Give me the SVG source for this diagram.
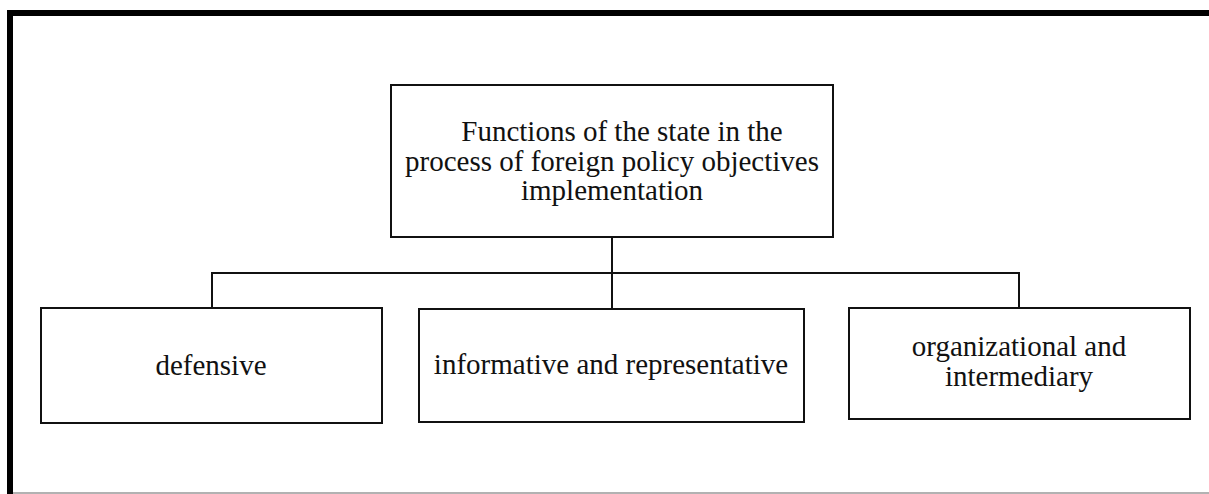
<svg xmlns="http://www.w3.org/2000/svg" width="1209" height="494" viewBox="0 0 1209 494">
<style>
.box{fill:#fff;stroke:#111;stroke-width:2}
.lbl{font-family:"Liberation Serif","Times New Roman",serif;font-size:29px;fill:#111;text-anchor:middle}
.con{stroke:#111;stroke-width:2;fill:none}
</style>
<rect width="1209" height="494" fill="#fff"/>
<g id="frame">
<line x1="7" y1="13" x2="1209" y2="13" stroke="#000" stroke-width="6"/>
<line x1="10" y1="10" x2="10" y2="494" stroke="#000" stroke-width="6"/>
<line x1="13" y1="493" x2="1209" y2="493" stroke="#999" stroke-width="1.5"/>
</g>
<g id="connectors">
<line class="con" x1="612" y1="237" x2="612" y2="273" stroke-width="3"/>
<line class="con" x1="612" y1="273" x2="612" y2="309"/>
<polyline class="con" points="212,308 212,273 1019,273 1019,308"/>
</g>
<g id="root">
<rect class="box" x="391" y="85" width="442" height="152"/>
<text class="lbl" x="622" y="141">Functions of the state in the</text>
<text class="lbl" x="612" y="171">process of foreign policy objectives</text>
<text class="lbl" x="612" y="200">implementation</text>
</g>
<g id="defensive">
<rect class="box" x="41" y="308" width="341" height="115"/>
<text class="lbl" x="211" y="375">defensive</text>
</g>
<g id="informative">
<rect class="box" x="419" y="309" width="385" height="113"/>
<text class="lbl" x="611" y="374">informative and representative</text>
</g>
<g id="organizational">
<rect class="box" x="849" y="308" width="341" height="111"/>
<text class="lbl" x="1019" y="356">organizational and</text>
<text class="lbl" x="1019" y="386">intermediary</text>
</g>
</svg>
